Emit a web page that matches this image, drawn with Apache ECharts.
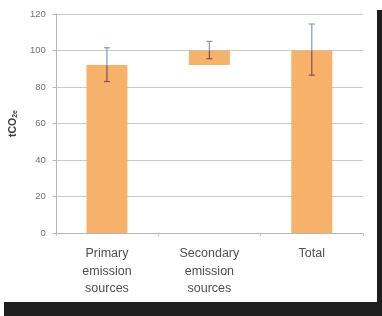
<!DOCTYPE html>
<html><head><meta charset="utf-8">
<script src="https://cdn.jsdelivr.net/npm/echarts@6/dist/echarts.min.js"></script>
<style>html,body{margin:0;padding:0;background:#fff}#c{width:382px;height:316px}</style>
</head><body><div id="c"></div>
<script>
const categories = ['Primary\nemission\nsources', 'Secondary\nemission\nsources', 'Total'];
const barBase = [0, 92, 0];
const barValues = [92, 8, 100];
const errLow = [83, 95.5, 86.5];
const errHigh = [101.5, 105, 114.5];
const yTicks = [0, 20, 40, 60, 80, 100, 120];

const chart = echarts.init(document.getElementById('c'), null, {renderer: 'canvas'});
const option = {
  animation: false,
  backgroundColor: '#ffffff',
  grid: {left: 52, right: 19, top: 14, bottom: 83},
  xAxis: {
    type: 'category', data: categories,
    axisLine: {lineStyle: {color: '#b5b5b5'}},
    axisTick: {show: true, length: 3, lineStyle: {color: '#c8c8c8'}},
    axisLabel: {color: '#505050', fontSize: 12.5, lineHeight: 17.5, margin: 12, fontFamily: 'Liberation Sans, Arial, sans-serif'}
  },
  yAxis: {
    type: 'value', min: yTicks[0], max: yTicks[yTicks.length - 1], interval: 20,
    name: '{a|tCO}{b|2e}', nameLocation: 'middle', nameRotate: 90, nameGap: 35,
    nameTextStyle: {rich: {
      a: {fontSize: 10.5, fontWeight: 'bold', color: '#3a3a3a', fontFamily: 'Liberation Sans, Arial, sans-serif'},
      b: {fontSize: 7, fontWeight: 'bold', color: '#3a3a3a', verticalAlign: 'bottom', padding: [4, 0, 0, 0], fontFamily: 'Liberation Sans, Arial, sans-serif'}
    }},
    axisLine: {show: true, lineStyle: {color: '#b5b5b5'}},
    axisTick: {show: true, length: 3, lineStyle: {color: '#b5b5b5'}},
    axisLabel: {color: '#707070', fontSize: 9.5, margin: 10, fontFamily: 'Liberation Sans, Arial, sans-serif'},
    splitLine: {lineStyle: {color: '#c9c9c9', width: 1}}
  },
  series: [
    {type: 'bar', stack: 's', data: barBase, itemStyle: {color: 'transparent'}, barWidth: '40%', silent: true},
    {type: 'bar', stack: 's', data: barValues, itemStyle: {color: '#f6b26b'}, barWidth: '40%'},
    {
      type: 'custom',
      data: categories.map((c, i) => [i, errLow[i], errHigh[i], barBase[i] + barValues[i]]),
      z: 10,
      renderItem: function (params, api) {
        const i = api.value(0);
        const lo = api.coord([i, api.value(1)]);
        const hi = api.coord([i, api.value(2)]);
        const top = api.coord([i, api.value(3)]);
        const x = lo[0];
        const w = 3;
        const blue = '#7d9cc0', red = '#8a4a5c';
        const midY = Math.max(hi[1], Math.min(lo[1], top[1]));
        return {type: 'group', children: [
          {type: 'line', shape: {x1: x, y1: hi[1], x2: x, y2: midY}, style: {stroke: blue, lineWidth: 1.2}},
          {type: 'line', shape: {x1: x, y1: midY, x2: x, y2: lo[1]}, style: {stroke: red, lineWidth: 1.2}},
          {type: 'line', shape: {x1: x - w, y1: hi[1], x2: x + w, y2: hi[1]}, style: {stroke: hi[1] < top[1] ? blue : red, lineWidth: 1.2}},
          {type: 'line', shape: {x1: x - w, y1: lo[1], x2: x + w, y2: lo[1]}, style: {stroke: lo[1] < top[1] ? blue : red, lineWidth: 1.2}}
        ]};
      }
    }
  ],
  graphic: [
    {type: 'rect', shape: {x: 377, y: 10, width: 5, height: 306}, style: {fill: '#1e1e1e'}, z: 100},
    {type: 'rect', shape: {x: 4, y: 302, width: 378, height: 14}, style: {fill: '#1e1e1e'}, z: 100}
  ]
};
chart.setOption(option);
</script></body></html>
